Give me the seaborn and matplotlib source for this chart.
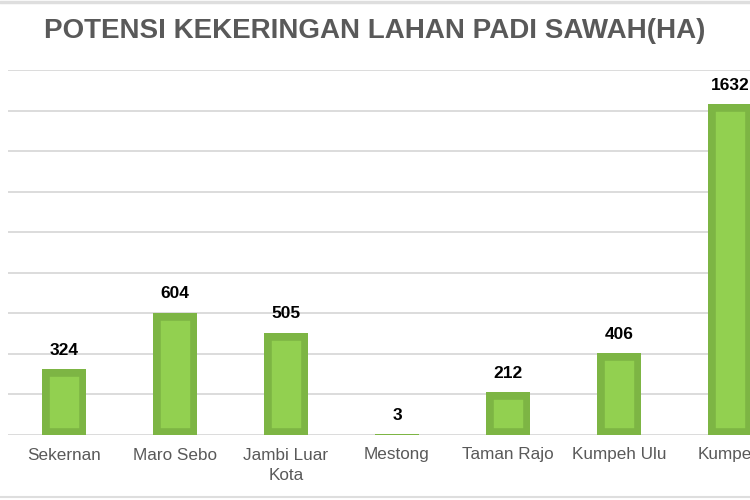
import numpy as np
import pandas as pd
import matplotlib.pyplot as plt
import seaborn as sns
from matplotlib.lines import Line2D

# data
kecamatan = ["Sekernan", "Maro Sebo", "Jambi Luar\nKota", "Mestong",
             "Taman Rajo", "Kumpeh Ulu", "Kumpeh"]
luas_ha = [324, 604, 505, 3, 212, 406, 1632]
y_ticks = [0, 200, 400, 600, 800, 1000, 1200, 1400, 1600, 1800]

sns.set_theme(style="white")
plt.rcParams['font.family'] = ['Liberation Sans', 'DejaVu Sans']

df = pd.DataFrame({'kecamatan': kecamatan, 'luas': luas_ha})

fig = plt.figure(figsize=(7.5, 5), dpi=100)
# axes runs past the right edge so the last bar is cut like in the screenshot
ax = fig.add_axes([0.0113, 0.13, 1.036, 0.73])

sns.barplot(data=df, x='kecamatan', y='luas', color='#7db544',
            saturation=1, width=0.396, ax=ax)

# darker inner border: stroke clipped to the bar itself
for p in ax.patches:
    p.set_facecolor('#92d050')
    p.set_edgecolor('#7db544')
    p.set_linewidth(10.5)
    p.set_clip_path(p)

ax.bar_label(ax.containers[0], fmt='%d', padding=8, fontsize=12.5,
             fontweight='bold', color='black', clip_on=False)

ax.set_ylim(0, 1800)
ax.set_yticks(y_ticks)
ax.set_yticklabels([])
ax.yaxis.grid(True, color='#d9d9d9', linewidth=1.3)
ax.set_axisbelow(True)
ax.tick_params(axis='both', length=0)
ax.tick_params(axis='x', pad=9, labelsize=12.3, labelcolor='#595959')
for t in ax.get_xticklabels():
    t.set_linespacing(1.45)
ax.set_xlabel('')
ax.set_ylabel('')
for s in ax.spines.values():
    s.set_visible(False)

fig.text(0.5, 1 - 31 / 500, 'POTENSI KEKERINGAN LAHAN PADI SAWAH(HA)',
         ha='center', va='center', fontsize=20, fontweight='bold',
         color='#595959')

# thin frame lines at top and bottom of the screenshot
fig.add_artist(Line2D([0, 1], [0.997, 0.997], color='#dedede', lw=2.5,
                      transform=fig.transFigure))
fig.add_artist(Line2D([0, 1], [0.006, 0.006], color='#dedede', lw=1.5,
                      transform=fig.transFigure))

fig.savefig('out.png', dpi=100)
